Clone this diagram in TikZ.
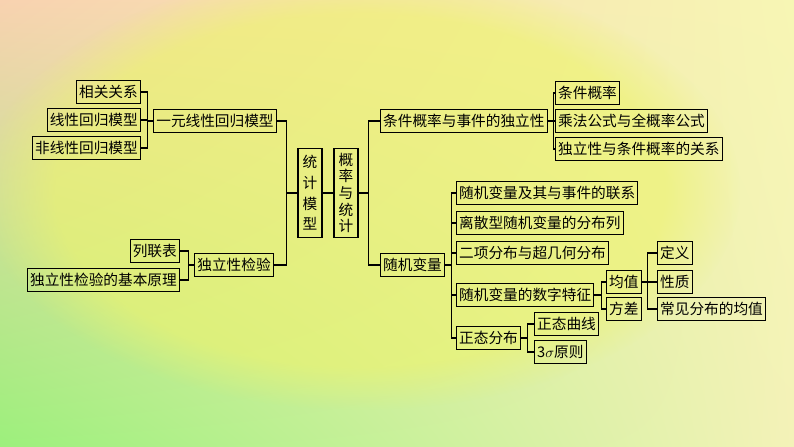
\documentclass[tikz,border=0pt]{standalone}
\usepackage{fontspec}
\setmainfont{Noto Sans CJK SC}
\usetikzlibrary{positioning, shadings, fadings}

\definecolor{bgpeach}{HTML}{F8D2B0}
\definecolor{bgyellow}{HTML}{F7F6B4}
\definecolor{bggreen}{HTML}{9CF07C}
\definecolor{bglight}{HTML}{F4F2B8}
\definecolor{midyellow}{HTML}{EEF46C}

\tikzset{
  topic/.style={draw, thick, fill=none, inner sep=2pt, minimum height=17pt,
    font=\fontsize{11}{13}\selectfont},
  vtopic/.style={topic, align=center, minimum width=18pt, minimum height=67pt,
    font=\fontsize{11}{12.5}\selectfont},
  link/.style={thick}
}

\begin{document}
\begin{tikzpicture}[x=0.75pt, y=-0.75pt]
  \useasboundingbox (0,0) rectangle (794,447);
  \begin{scope}
    \clip (0,0) rectangle (794,447);
    \shade[upper left=bgpeach, upper right=bgyellow, lower left=bggreen, lower right=bglight]
      (0,0) rectangle (794,447);
    \fill[midyellow, path fading=circle with fuzzy edge 20 percent, opacity=0.6]
      (360,190) ellipse (380 and 220);
  \end{scope}

  % centre
  \node[vtopic, font=\fontsize{11}{15.5}\selectfont] (stat) at (310,193) {统\\计\\模\\型};
  \node[vtopic] (prob) at (346,193) {概\\率\\与\\统\\计};

  % left branch
  \node[topic] (linreg) at (215,121) {一元线性回归模型};
  \node[topic] (indtest) at (234,265) {独立性检验};
  \node[topic, anchor=east] (corr) at (141,92) {相关关系};
  \node[topic, anchor=east] (linmodel) at (141,120) {线性回归模型};
  \node[topic, anchor=east] (nonlin) at (141,148) {非线性回归模型};
  \node[topic, anchor=east] (table) at (180,251) {列联表};
  \node[topic, anchor=east] (principle) at (180,280) {独立性检验的基本原理};

  % right branch
  \node[topic, anchor=west] (cond) at (380,121) {条件概率与事件的独立性};
  \node[topic, anchor=west] (randvar) at (380,265) {随机变量};
  \node[topic, anchor=west] (condprob) at (555,93) {条件概率};
  \node[topic, anchor=west] (mult) at (555,121) {乘法公式与全概率公式};
  \node[topic, anchor=west] (indrel) at (555,149) {独立性与条件概率的关系};
  \node[topic, anchor=west] (rvevent) at (456,193) {随机变量及其与事件的联系};
  \node[topic, anchor=west] (discrete) at (456,223) {离散型随机变量的分布列};
  \node[topic, anchor=west] (binom) at (456,253) {二项分布与超几何分布};
  \node[topic, anchor=west] (numfeat) at (456,295) {随机变量的数字特征};
  \node[topic, anchor=west] (normal) at (456,338) {正态分布};
  \node[topic, anchor=west] (mean) at (606,282) {均值};
  \node[topic, anchor=west] (variance) at (606,309) {方差};
  \node[topic, anchor=west] (define) at (657,253) {定义};
  \node[topic, anchor=west] (prop) at (657,282) {性质};
  \node[topic, anchor=west] (common) at (657,309) {常见分布的均值};
  \node[topic, anchor=west] (curve) at (534,324) {正态曲线};
  \node[topic, anchor=west] (sigma) at (534,352) {3$\sigma$原则};

  % connectors
  \draw[link] (stat) -- (prob);
  \foreach \child in {linreg, indtest}
    \draw[link] (stat.west) -- ++(-11,0) |- (\child.east);
  \foreach \child in {corr, linmodel, nonlin}
    \draw[link] (linreg.west) -- ++(-6,0) |- (\child.east);
  \foreach \child in {table, principle}
    \draw[link] (indtest.west) -- ++(-6,0) |- (\child.east);
  \foreach \child in {cond, randvar}
    \draw[link] (prob.east) -- ++(10,0) |- (\child.west);
  \foreach \child in {condprob, mult, indrel}
    \draw[link] (cond.east) -- ++(6,0) |- (\child.west);
  \foreach \child in {rvevent, discrete, binom, numfeat, normal}
    \draw[link] (randvar.east) -- ++(6,0) |- (\child.west);
  \foreach \child in {mean, variance}
    \draw[link] (numfeat.east) -- ++(7,0) |- (\child.west);
  \foreach \child in {define, prop, common}
    \draw[link] (mean.east) -- ++(6,0) |- (\child.west);
  \foreach \child in {curve, sigma}
    \draw[link] (normal.east) -- ++(6,0) |- (\child.west);
\end{tikzpicture}
\end{document}
